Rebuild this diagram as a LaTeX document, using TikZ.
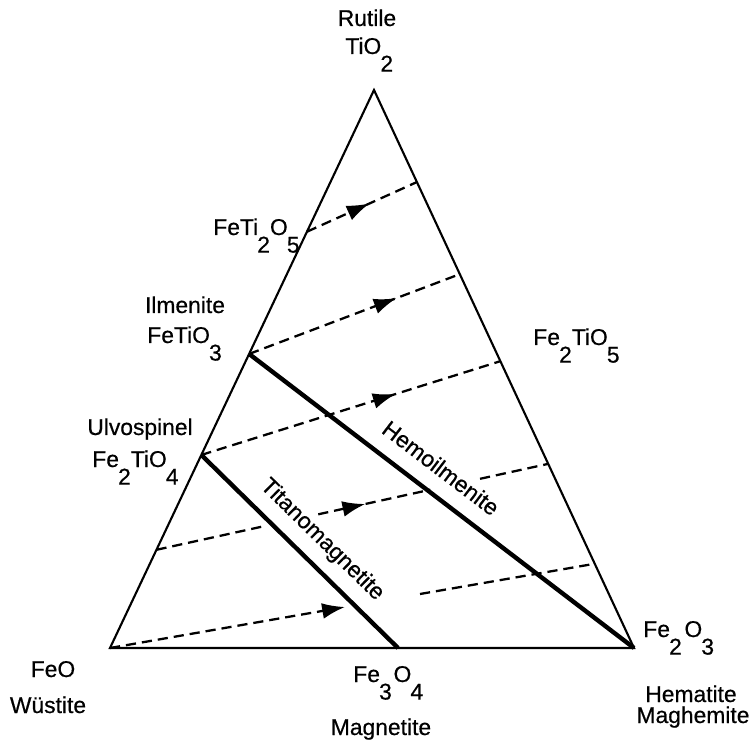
\documentclass[tikz,border=0pt]{standalone}
\usepackage{fontspec}
\setmainfont{Liberation Sans}
\newfontfamily\lblfont{Liberation Sans}[FakeBold=0.5]
\usetikzlibrary{calc,arrows.meta,decorations.markings}
\newcommand\dn[1]{\kern-0.5pt\raisebox{-10pt}{#1}}
\begin{document}
\begin{tikzpicture}[x=0.02cm,y=-0.02cm,
  side/.style={line width=1.2pt, line join=miter},
  solline/.style={line width=2.5pt},
  tie/.style={line width=1.3pt, dash pattern=on 5.8pt off 3.4pt},
  tiptri/.style={-{Latex[length=13pt,width=9pt]}},
  tiearrow/.style={tie, postaction={decorate},
    decoration={markings, mark=at position #1 with {\arrow{Latex[length=13pt,width=9pt]}}}},
  lbl/.style={font=\lblfont\fontsize{13}{15}\selectfont, inner sep=0pt},
]
\useasboundingbox (0,0) rectangle (753,742);
% vertices
\coordinate (T) at (374,90);
\coordinate (W) at (110,648);
\coordinate (H) at (634,648);
\coordinate (M) at (398,648);
% points on left side
\coordinate (P) at ($(T)!0.254!(W)$);
\coordinate (I) at ($(T)!0.473!(W)$);
\coordinate (U) at ($(T)!0.654!(W)$);
\coordinate (L4) at ($(T)!0.824!(W)$);
% points on right side
\coordinate (R1) at ($(T)!0.165!(H)$);
\coordinate (R2) at ($(T)!0.330!(H)$);
\coordinate (R3) at ($(T)!0.486!(H)$);
\coordinate (R4) at ($(T)!0.670!(H)$);
\coordinate (R5) at ($(T)!0.849!(H)$);
% triangle
\draw[side] (T) -- (W) -- (H) -- cycle;
% solid solution lines
\draw[solline] (I) -- (H);
\draw[solline] (U) -- (M);
% tie lines
\draw[tiearrow=0.57] (P) -- (R1);
\draw[tiearrow=0.70] (I) -- (R2);
\draw[tiearrow=0.65] (U) -- (R3);
\coordinate (a4) at ($(L4)!0.275!(R4)$);
\coordinate (b4) at ($(L4)!0.413!(R4)$);
\coordinate (c4) at ($(L4)!0.699!(R4)$);
\coordinate (e4) at ($(L4)!0.826!(R4)$);
\draw[tie] (L4) -- (a4);
\draw[tiearrow=0.42] (b4) -- (c4);
\draw[tie] (e4) -- (R4);
\coordinate (d5) at (420,594);
\draw[tie] (d5) -- (R5);
\coordinate (a6) at (345,607);
\draw[tie, tiptri] (W) -- (a6);
% labels
\node[lbl, anchor=base] (rut) at (367,26) {Rutile};
\node[lbl, anchor=base west] (tio2) at (345,54) {TiO\dn{2}};
\node[lbl, anchor=base] (ilm) at (185,313) {Ilmenite};
\node[lbl, anchor=base west] (fetio3) at (147,343) {FeTiO\dn{3}};
\node[lbl, anchor=base] (ulv) at (140,435) {Ulvospinel};
\node[lbl, anchor=base west] (fe2tio4) at (92,467) {Fe\dn{2}TiO\dn{4}};
\node[lbl, anchor=base west] (feti2o5) at (213,235) {FeTi\dn{2}O\dn{5}};
\node[lbl, anchor=base west] (fe2tio5) at (533,345) {Fe\dn{2}TiO\dn{5}};
\node[lbl, anchor=base west] (fe2o3) at (643,637) {Fe\dn{2}\hspace{1.5pt}O\dn{3}};
\node[lbl, anchor=base] (hem) at (691,702) {Hematite};
\node[lbl, anchor=base] (mgh) at (693,723) {Maghemite};
\node[lbl, anchor=base] (feo) at (53,677) {FeO};
\node[lbl, anchor=base] (wus) at (48,713) {Wüstite};
\node[lbl, anchor=base west] (fe3o4) at (353,682) {Fe\dn{3}\hspace{1pt}O\dn{4}};
\node[lbl, anchor=base] (mag) at (381,735) {Magnetite};
\node[lbl, rotate=-37.3] (hemo) at (441,468) {Hemoilmenite};
\node[lbl, rotate=-44.4] (titano) at (322,540) {Titanomagnetite};
\end{tikzpicture}
\end{document}
